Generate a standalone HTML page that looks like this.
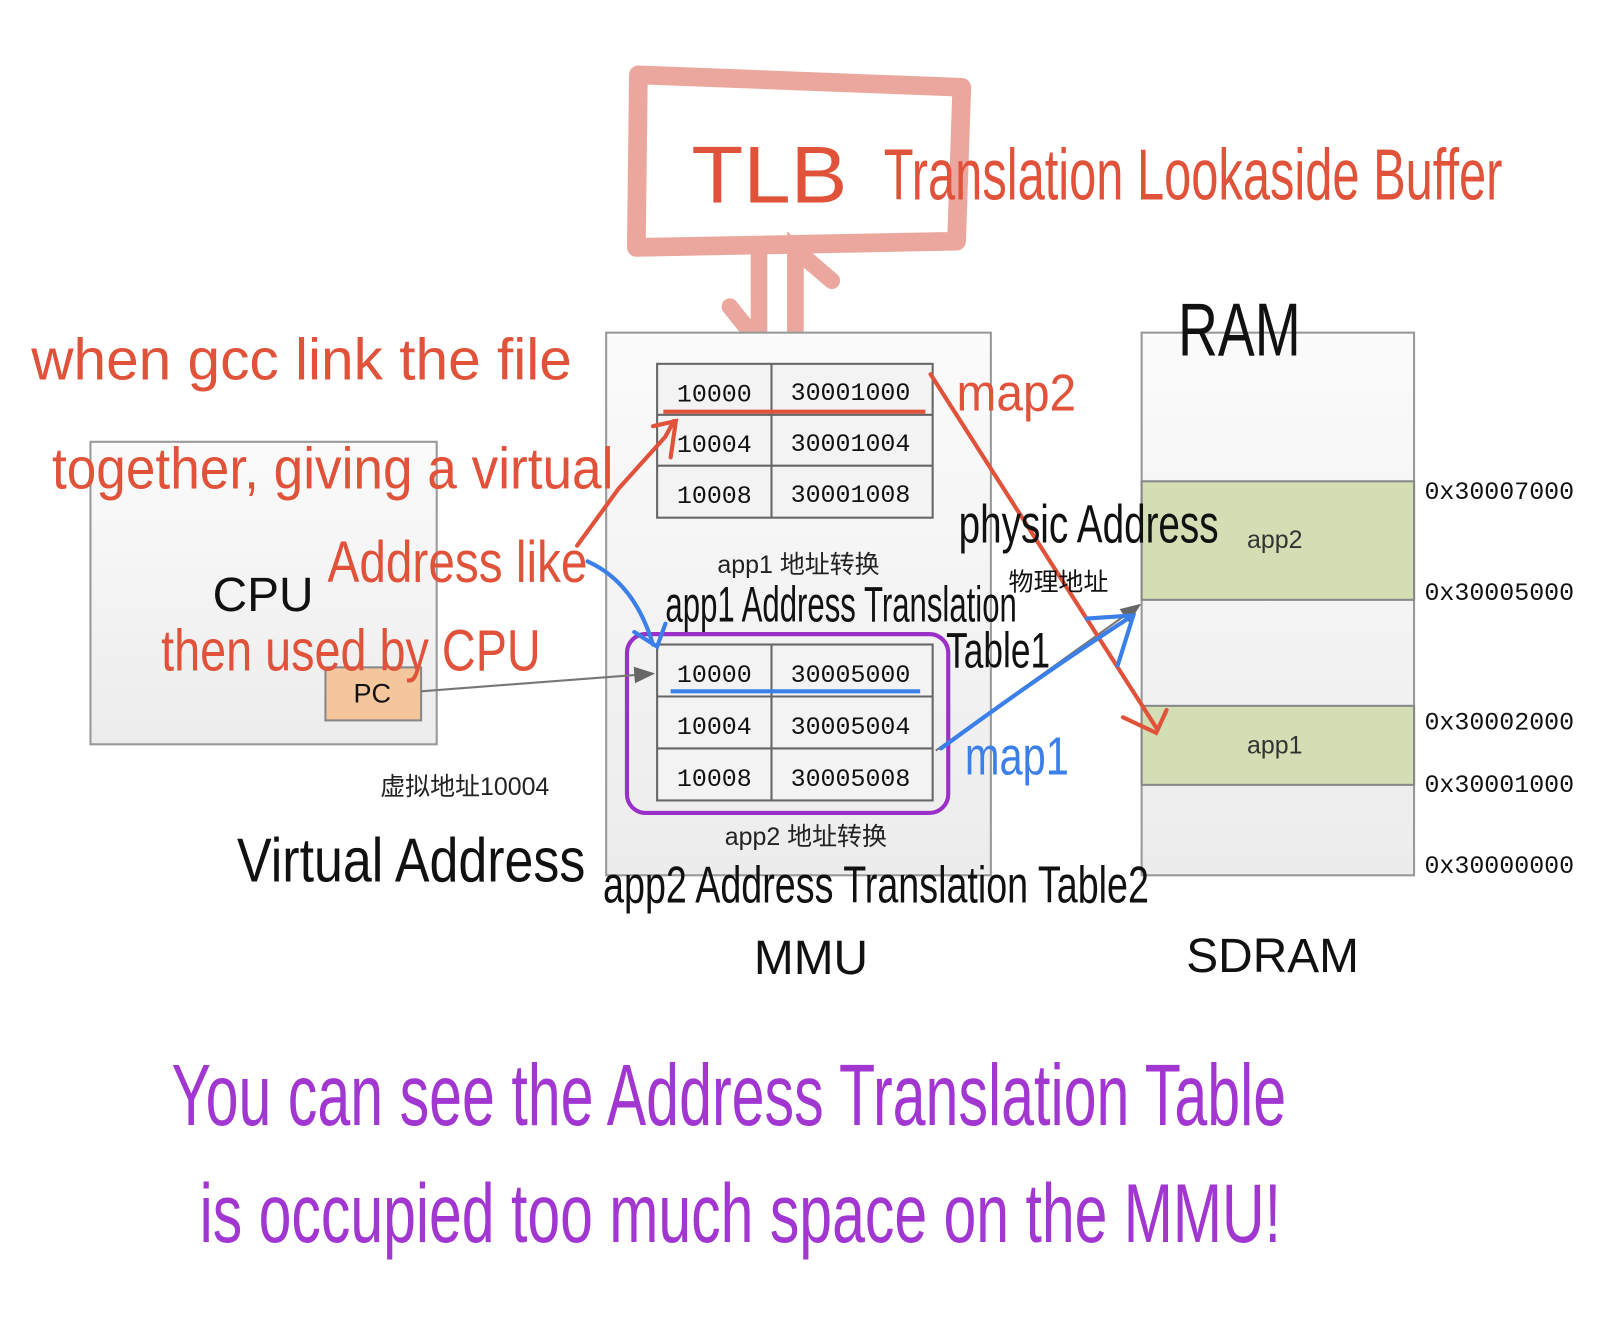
<!DOCTYPE html>
<html><head><meta charset="utf-8"><style>
html,body{margin:0;padding:0;background:#fff;}
svg{display:block}
.hw{font-family:"Liberation Sans Narrow","Liberation Sans",sans-serif;}
.cell{font-family:"Liberation Mono","DejaVu Sans Mono",monospace;font-size:24px;fill:#111;}
.cjk{font-family:"Liberation Sans","Noto Sans CJK SC",sans-serif;}
</style></head><body>
<svg width="1622" height="1341" viewBox="0 0 1560 1290" preserveAspectRatio="none" xmlns="http://www.w3.org/2000/svg">
<defs>
<linearGradient id="g" x1="0" y1="0" x2="0" y2="1"><stop offset="0" stop-color="#fbfbfb"/><stop offset="1" stop-color="#ececec"/></linearGradient>
<marker id="ag" markerWidth="10" markerHeight="10" refX="9" refY="5" orient="auto"><path d="M0,1 L10,5 L0,9 z" fill="#666"/></marker>
</defs>
<!-- TLB box -->
<path d="M614,72 L925,84 L920,232 L612,238 Z" fill="none" stroke="#eba79e" stroke-width="18" stroke-linejoin="round"/>
<text x="665" y="195" class="hw" font-size="78" fill="#e0533a" textLength="150" lengthAdjust="spacingAndGlyphs">TLB</text>
<text x="850" y="192" class="hw" font-size="70" fill="#e0533a" textLength="595" lengthAdjust="spacingAndGlyphs">Translation Lookaside Buffer</text>
<!-- double arrow -->
<g stroke="#eba79e" stroke-width="16" fill="none" stroke-linecap="round">
<path d="M730,240 L730,330 M702,295 L730,330"/>
<path d="M765,330 L765,240 L800,270"/>
</g>
<!-- MMU -->
<rect x="583" y="320" width="370" height="522" fill="url(#g)" stroke="#999" stroke-width="2"/>
<g stroke="#666" stroke-width="2" fill="#f3f3f3">
<rect x="632" y="350" width="265" height="148"/>
<rect x="632" y="620" width="265" height="150"/>
</g>
<g stroke="#666" stroke-width="2">
<line x1="742" y1="350" x2="742" y2="498"/><line x1="632" y1="399" x2="897" y2="399"/><line x1="632" y1="448" x2="897" y2="448"/>
<line x1="742" y1="620" x2="742" y2="770"/><line x1="632" y1="670" x2="897" y2="670"/><line x1="632" y1="720" x2="897" y2="720"/>
</g>
<g class="cell" text-anchor="middle">
<text x="687" y="386">10000</text><text x="818" y="385">30001000</text>
<text x="687" y="435">10004</text><text x="818" y="434">30001004</text>
<text x="687" y="484">10008</text><text x="818" y="483">30001008</text>
<text x="687" y="656">10000</text><text x="818" y="656">30005000</text>
<text x="687" y="706">10004</text><text x="818" y="706">30005004</text>
<text x="687" y="756">10008</text><text x="818" y="756">30005008</text>
</g>
<line x1="638" y1="396" x2="890" y2="396" stroke="#e0533a" stroke-width="4"/>
<line x1="645" y1="665" x2="885" y2="665" stroke="#3b7fe8" stroke-width="4"/>
<text x="768" y="551" class="cjk" font-size="24" fill="#222" text-anchor="middle">app1 地址转换</text>
<text x="775" y="813" class="cjk" font-size="24" fill="#222" text-anchor="middle">app2 地址转换</text>
<rect x="603" y="610" width="309" height="172" rx="18" fill="none" stroke="#9b30c8" stroke-width="4"/>
<!-- CPU -->
<rect x="87" y="425" width="333" height="291" fill="url(#g)" stroke="#999" stroke-width="2"/>
<text x="253" y="588" class="cjk" font-size="46" fill="#111" text-anchor="middle">CPU</text>
<rect x="313" y="642" width="92" height="51" fill="#f5c69c" stroke="#888" stroke-width="2"/>
<text x="358" y="676" class="cjk" font-size="26" fill="#111" text-anchor="middle">PC</text>
<line x1="405" y1="665" x2="628" y2="648" stroke="#777" stroke-width="2" marker-end="url(#ag)"/>
<text x="447" y="765" class="cjk" font-size="24" fill="#222" text-anchor="middle">虚拟地址10004</text>
<!-- RAM -->
<rect x="1098" y="320" width="262" height="522" fill="url(#g)" stroke="#999" stroke-width="2"/>
<rect x="1098" y="463" width="262" height="114" fill="#d4deb4" stroke="#888" stroke-width="2"/>
<rect x="1098" y="679" width="262" height="76" fill="#d4deb4" stroke="#888" stroke-width="2"/>
<text x="1226" y="527" class="cjk" font-size="24" fill="#333" text-anchor="middle">app2</text>
<text x="1226" y="725" class="cjk" font-size="24" fill="#333" text-anchor="middle">app1</text>
<g class="cell" font-size="24" fill="#333">
<text x="1370" y="480">0x30007000</text><text x="1370" y="577">0x30005000</text>
<text x="1370" y="702">0x30002000</text><text x="1370" y="762">0x30001000</text>
<text x="1370" y="840">0x30000000</text>
</g>
<line x1="900" y1="722" x2="1096" y2="582" stroke="#777" stroke-width="2" marker-end="url(#ag)"/>
<text x="780" y="937" class="cjk" font-size="46" fill="#111" text-anchor="middle">MMU</text>
<text x="1224" y="935" class="cjk" font-size="46" fill="#111" text-anchor="middle">SDRAM</text>
<!-- annotations -->
<g stroke-width="4" fill="none" stroke-linecap="round">
<path d="M895,360 L1112,700 M1080,690 L1112,705 L1122,683" stroke="#e0533a"/>
<path d="M555,525 L595,470 L640,420 L648,405 M628,410 L650,405 L645,440" stroke="#e0533a"/>
<path d="M565,540 Q610,560 628,620 M610,608 L632,622 L640,600" stroke="#3b7fe8"/>
<path d="M905,720 Q1000,650 1085,595 M1045,595 L1090,592 L1075,640" stroke="#3b7fe8"/>
</g>
<g class="hw" fill="#e0533a">
<text x="30" y="365" font-size="56" textLength="520" lengthAdjust="spacingAndGlyphs">when gcc link the file</text>
<text x="50" y="470" font-size="56" textLength="540" lengthAdjust="spacingAndGlyphs">together, giving a virtual</text>
<text x="315" y="560" font-size="56" textLength="250" lengthAdjust="spacingAndGlyphs">Address like</text>
<text x="155" y="645" font-size="56" textLength="365" lengthAdjust="spacingAndGlyphs">then used by CPU</text>
<text x="920" y="395" font-size="50" textLength="115" lengthAdjust="spacingAndGlyphs">map2</text>
</g>
<text x="928" y="745" class="hw" font-size="52" fill="#3b7fe8" textLength="100" lengthAdjust="spacingAndGlyphs">map1</text>
<g class="hw" fill="#111">
<text x="922" y="522" font-size="52" textLength="250" lengthAdjust="spacingAndGlyphs">physic Address</text>
<text x="970" y="568" class="cjk" font-size="24">物理地址</text>
<text x="640" y="598" font-size="48" textLength="338" lengthAdjust="spacingAndGlyphs">app1 Address Translation</text>
<text x="910" y="642" font-size="48" textLength="100" lengthAdjust="spacingAndGlyphs">Table1</text>
<text x="228" y="848" font-size="60" textLength="335" lengthAdjust="spacingAndGlyphs">Virtual Address</text>
<text x="580" y="868" font-size="50" textLength="525" lengthAdjust="spacingAndGlyphs">app2 Address Translation Table2</text>
<text x="1133" y="342" font-size="72" textLength="118" lengthAdjust="spacingAndGlyphs">RAM</text>
</g>
<g class="hw" fill="#a136d0">
<text x="165" y="1082" font-size="84" textLength="1072" lengthAdjust="spacingAndGlyphs">You can see the Address Translation Table</text>
<text x="192" y="1195" font-size="80" textLength="1040" lengthAdjust="spacingAndGlyphs">is occupied too much space on the MMU!</text>
</g>
</svg>
</body></html>
